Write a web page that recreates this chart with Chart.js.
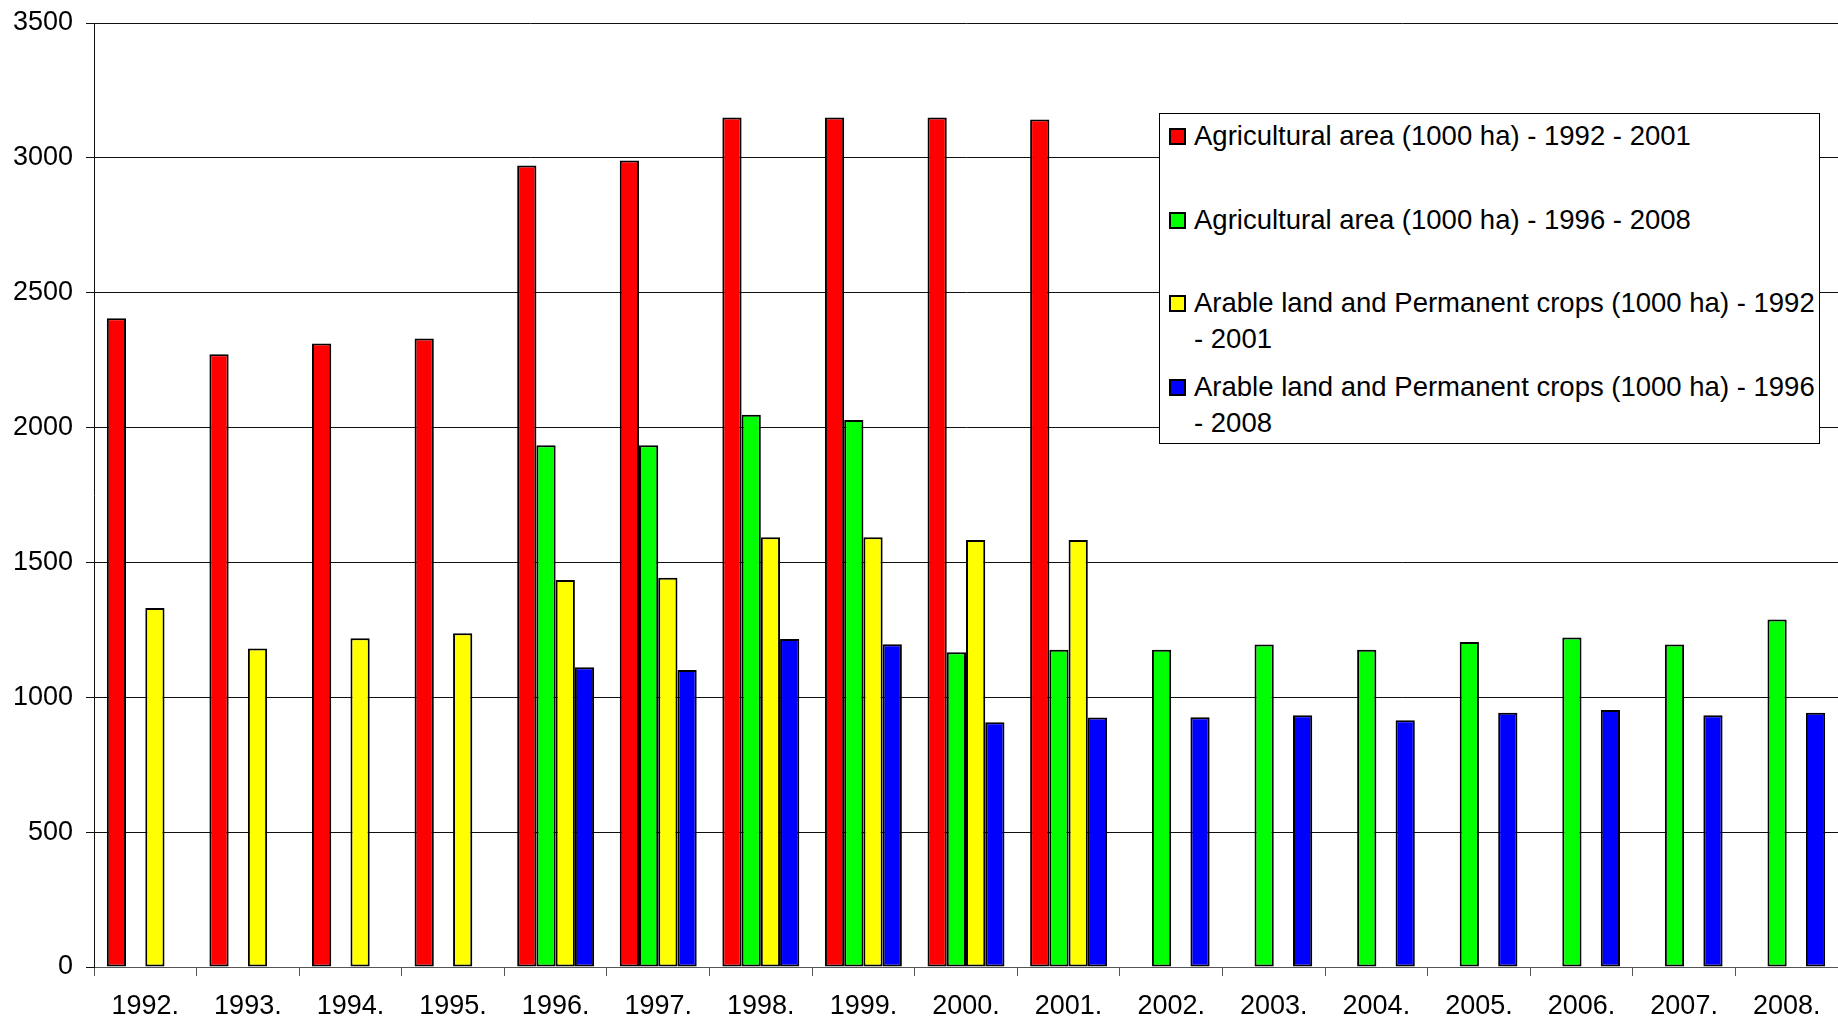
<!DOCTYPE html>
<html>
<head>
<meta charset="utf-8">
<script src="https://cdn.jsdelivr.net/npm/chart.js@4.4.1/dist/chart.umd.min.js"></script>
<style>
  html, body { margin: 0; padding: 0; background: #fff; }
  #wrap { position: relative; width: 1838px; height: 1019px; }
  #legend {
    position: absolute; left: 1159px; top: 113px; width: 661px; height: 331px;
    box-sizing: border-box; border: 1px solid #000; background: #fff;
    padding: 4px 0 0 9px;
    font-family: "Liberation Sans", Arial, sans-serif; font-size: 27.5px; color: #000;
  }
  .item { display: flex; height: 83.5px; }
  .box { width: 13px; height: 13px; border: 2px solid #000; margin-top: 10px; margin-right: 8px; flex: none; }
  .text { width: 625px; line-height: 36px; }
</style>
</head>
<body>
<div id="wrap">
  <canvas id="chart" width="1838" height="1019"></canvas>
  <div id="legend"></div>
</div>
<script>
// categories
const years = ['1992.', '1993.', '1994.', '1995.', '1996.', '1997.', '1998.', '1999.', '2000.',
  '2001.', '2002.', '2003.', '2004.', '2005.', '2006.', '2007.', '2008.'];

// series values (1000 ha), null where the series has no data
const agriArea9201 = [2405, 2272, 2312, 2330, 2972, 2990, 3150, 3150, 3150, 3142,
  null, null, null, null, null, null, null];
const agriArea9608 = [null, null, null, null, 1934, 1934, 2048, 2028, 1167, 1176,
  1176, 1196, 1176, 1205, 1222, 1196, 1288];
const arable9201 = [1331, 1181, 1219, 1237, 1435, 1443, 1593, 1593, 1583, 1583,
  null, null, null, null, null, null, null];
const arable9608 = [null, null, null, null, 1111, 1101, 1216, 1197, 907, 925,
  926, 933, 915, 943, 953, 933, 943];

// y axis ticks
const yTicks = [0, 500, 1000, 1500, 2000, 2500, 3000, 3500];

const FONT = '"Liberation Sans", Arial, sans-serif';

function bar(label, data, color) {
  return {
    label: label,
    data: data,
    backgroundColor: color,
    borderColor: '#000',
    borderWidth: 2,
    borderSkipped: false,
    categoryPercentage: 0.75,
    barPercentage: 1.0
  };
}

const ctx = document.getElementById('chart').getContext('2d');
const chart = new Chart(ctx, {
  type: 'bar',
  data: {
    labels: years,
    datasets: [
      bar('Agricultural area (1000 ha) - 1992 - 2001', agriArea9201, '#ff0000'),
      bar('Agricultural area (1000 ha) - 1996 - 2008', agriArea9608, '#00ff00'),
      bar('Arable land and Permanent crops (1000 ha) - 1992 - 2001', arable9201, '#ffff00'),
      bar('Arable land and Permanent crops (1000 ha) - 1996 - 2008', arable9608, '#0000ff')
    ]
  },
  options: {
    responsive: false,
    animation: false,
    layout: { padding: { top: 23, left: 0, right: 0, bottom: 0 } },
    plugins: {
      legend: { display: false },
      tooltip: { enabled: false }
    },
    scales: {
      x: {
        grid: { drawOnChartArea: false, drawTicks: true, tickLength: 9, color: '#555', lineWidth: 1 },
        border: { display: true, color: '#555', width: 1 },
        ticks: { color: '#000', font: { family: FONT, size: 27 }, padding: 14, maxRotation: 0, autoSkip: false },
        afterFit: function (scale) { scale.height = 52; }
      },
      y: {
        min: 0,
        max: 3500,
        afterBuildTicks: function (scale) {
          scale.ticks = yTicks.map(function (v) { return { value: v }; });
        },
        grid: { color: '#111', lineWidth: 1, drawTicks: true, tickLength: 8 },
        border: { display: true, color: '#111', width: 1 },
        ticks: {
          color: '#000',
          font: { family: FONT, size: 27, lineHeight: 0.7 },
          padding: 13,
          callback: function (value) { return String(value); }
        },
        afterFit: function (scale) { scale.width = 94; }
      }
    }
  }
});

// legend built from the chart's datasets
const legendEl = document.getElementById('legend');
chart.data.datasets.forEach(function (ds) {
  const item = document.createElement('div');
  item.className = 'item';
  const box = document.createElement('div');
  box.className = 'box';
  box.style.background = ds.backgroundColor;
  const text = document.createElement('div');
  text.className = 'text';
  text.textContent = ds.label;
  item.appendChild(box);
  item.appendChild(text);
  legendEl.appendChild(item);
});
</script>
</body>
</html>
